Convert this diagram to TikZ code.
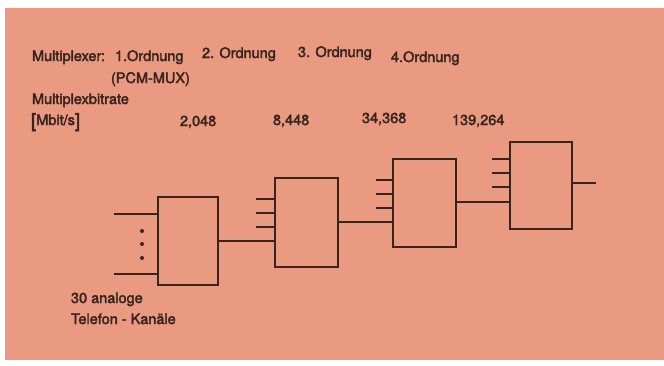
\documentclass[tikz,border=0pt]{standalone}
\usepackage{fontspec}
\setmainfont{TeX Gyre Heros}
\newfontfamily\labfont{TeX Gyre Heros}[FakeBold=2.5]
\definecolor{salmon}{RGB}{234,154,129}
\definecolor{ink}{RGB}{55,36,30}
\begin{document}
\begin{tikzpicture}[x=1pt,y=-1pt,
  mux/.style={draw=ink,line width=2.3pt,inner sep=0pt,outer sep=0pt,anchor=north west},
  wire/.style={draw=ink,line width=1.4pt},
  lbl/.style={anchor=base west,inner sep=0pt,outer sep=0pt,text=ink,font=\labfont\fontsize{14.5}{16}\selectfont}]
\useasboundingbox (0,0) rectangle (664,365);
\fill[white] (0,0) rectangle (664,365);
\fill[salmon] (5,8) rectangle (664,360);
% texts
\node[lbl] (t1) at (32,61) {Multiplexer:};
\node[lbl] (t2) at (115,61) {1.Ordnung};
\node[lbl] (t3) at (202,58) {2. Ordnung};
\node[lbl] (t4) at (298,57) {3. Ordnung};
\node[lbl] (t5) at (391,62) {4.Ordnung};
\node[lbl] (t6) at (111,83) {(PCM-MUX)};
\node[lbl] (t7) at (32,104) {Multiplexbitrate};
\node[lbl] (t8) at (31,125) {\raisebox{-2pt}{\fontsize{19}{19}\selectfont[}Mbit/s\raisebox{-2pt}{\fontsize{19}{19}\selectfont]}};
\node[lbl] (t9) at (180,126) {2,048};
\node[lbl] (t10) at (273,125) {8,448};
\node[lbl] (t11) at (362,123) {34,368};
\node[lbl] (t12) at (452,125) {139,264};
\node[lbl] (t13) at (71,303) {30 analoge};
\node[lbl] (t14) at (71,324) {Telefon - Kanäle};
% boxes
\node[mux,minimum width=60pt,minimum height=88pt] (b1) at (158,197) {};
\node[mux,minimum width=63pt,minimum height=89pt] (b2) at (275,178) {};
\node[mux,minimum width=63pt,minimum height=88pt] (b3) at (393,159) {};
\node[mux,minimum width=62pt,minimum height=87pt] (b4) at (510,142) {};
% free ends
\coordinate (i1) at (114,214);
\coordinate (i2) at (114,274);
\coordinate (o4) at (596,183);
% inputs of box 1
\draw[wire] (i1) -- (b1.west |- i1);
\draw[wire] (i2) -- (b1.west |- i2);
\fill[ink] (142,231) circle (2pt) (142,244) circle (2pt) (142,258) circle (2pt);
% links
\draw[wire] (b1.east |- 0,241) -- (b2.west |- 0,241);
\draw[wire] (b2.east |- 0,222) -- (b3.west |- 0,222);
\draw[wire] (b3.east |- 0,202) -- (b4.west |- 0,202);
\draw[wire] (b4.east |- o4) -- (o4);
% stubs
\foreach \y in {199,213,227} \draw[wire] (256,\y) -- (b2.west |- 0,\y);
\foreach \y in {180,194,208} \draw[wire] (376,\y) -- (b3.west |- 0,\y);
\foreach \y in {159,173,187} \draw[wire] (492,\y) -- (b4.west |- 0,\y);
\end{tikzpicture}
\end{document}
